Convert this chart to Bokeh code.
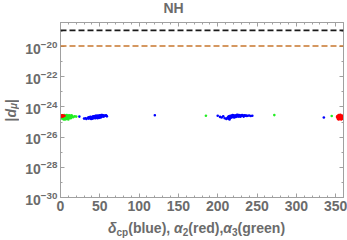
from bokeh.plotting import figure
from bokeh.models import Span, LogAxis, LinearAxis, FixedTicker, CustomJSTickFormatter, Div
from bokeh.layouts import column, row
from bokeh.embed import file_html
from bokeh.resources import INLINE

# ---- data ----
blue_x = [30, 32, 33, 35, 36, 37, 38, 38, 39, 40, 40, 41, 42, 42, 43, 44, 44, 45, 45, 46, 46, 47, 47, 48, 48,
          49, 49, 50, 50, 51, 51, 52, 52, 53, 53, 54, 55, 55, 56, 57, 58, 59, 36, 39, 41, 43, 45, 47, 49, 51, 53, 24,
          120, 200, 203, 205, 207, 209, 335,
          211, 212, 213, 214, 214, 215, 216, 216, 217, 218, 218, 219, 220, 220, 221, 222, 222, 223, 224, 224, 225,
          226, 226, 227, 228, 228, 229, 230, 230, 231, 232, 233, 234, 235, 236, 237, 238, 240, 242, 244,
          215, 217, 219, 221, 223, 225, 227, 229, 231, 233]
blue_y = [1.7e-25, 1.8e-25, 1.6e-25, 1.9e-25, 1.7e-25, 2.0e-25, 1.8e-25, 2.2e-25, 1.6e-25, 2.1e-25, 1.8e-25,
          2.3e-25, 1.9e-25, 2.4e-25, 2.1e-25, 1.8e-25, 2.5e-25, 2.2e-25, 1.9e-25, 2.6e-25, 2.1e-25, 2.3e-25,
          1.8e-25, 2.7e-25, 2.0e-25, 2.4e-25, 2.2e-25, 2.8e-25, 2.1e-25, 2.5e-25, 2.3e-25, 2.9e-25, 2.2e-25,
          2.6e-25, 2.4e-25, 2.8e-25, 2.5e-25, 2.3e-25, 2.7e-25, 2.6e-25, 2.8e-25, 2.4e-25, 2.1e-25, 2.0e-25,
          1.7e-25, 2.3e-25, 2.6e-25, 2.5e-25, 1.9e-25, 2.0e-25, 2.9e-25, 2.3e-25,
          2.8e-25, 2.6e-25, 2.2e-25, 2.0e-25, 2.4e-25, 1.8e-25, 2.0e-25,
          1.6e-25, 1.8e-25, 2.1e-25, 2.4e-25, 1.7e-25, 2.2e-25, 2.6e-25, 1.9e-25, 2.3e-25, 2.7e-25, 2.1e-25,
          2.4e-25, 2.8e-25, 2.2e-25, 2.5e-25, 2.7e-25, 2.3e-25, 2.6e-25, 2.9e-25, 2.4e-25, 2.6e-25, 2.8e-25,
          2.3e-25, 2.5e-25, 2.7e-25, 2.4e-25, 2.6e-25, 2.8e-25, 2.5e-25, 2.6e-25, 2.7e-25, 2.5e-25, 2.8e-25,
          2.6e-25, 2.7e-25, 2.5e-25, 2.6e-25, 2.7e-25, 2.5e-25, 2.6e-25,
          1.5e-25, 2.0e-25, 2.9e-25, 2.0e-25, 2.2e-25, 3.0e-25, 2.9e-25, 2.3e-25, 2.9e-25, 2.3e-25]

red_x = [1, 2, 3, 4, 2, 3, 5, 1,
         352, 353, 353, 354, 354, 355, 355, 356, 356, 357, 357, 358, 358, 359, 359, 352, 354, 356, 358, 355]
red_y = [2.6e-25, 2.4e-25, 2.7e-25, 2.5e-25, 2.8e-25, 2.3e-25, 2.6e-25, 2.3e-25,
         2.0e-25, 2.6e-25, 1.6e-25, 2.3e-25, 2.9e-25, 1.8e-25, 2.5e-25, 2.1e-25, 2.8e-25, 1.5e-25, 2.4e-25,
         1.9e-25, 2.7e-25, 2.2e-25, 1.7e-25, 2.4e-25, 1.5e-25, 3.0e-25, 1.6e-25, 2.2e-25]

green_x = [1, 2, 3, 4, 5, 5, 6, 6, 7, 7, 8, 8, 9, 9, 10, 10, 11, 11, 12, 12, 13, 13, 14, 15, 16, 18,
           3, 4, 6, 8, 10, 2, 11, 14,
           20, 185, 272, 345]
green_y = [2.0e-25, 1.7e-25, 2.2e-25, 1.9e-25, 2.9e-25, 1.6e-25, 2.4e-25, 2.0e-25, 2.7e-25, 1.8e-25,
           2.3e-25, 2.9e-25, 2.1e-25, 1.7e-25, 2.6e-25, 2.2e-25, 1.9e-25, 2.8e-25, 2.4e-25, 2.0e-25,
           2.6e-25, 1.8e-25, 2.3e-25, 2.5e-25, 2.1e-25, 2.4e-25,
           2.8e-25, 1.5e-25, 1.5e-25, 1.6e-25, 1.5e-25, 2.5e-25, 2.3e-25, 2.8e-25,
           2.3e-25, 2.6e-25, 2.9e-25, 2.5e-25]

bound_now = 1.2e-19
bound_future = 1.1e-20

x_ticks = [0, 50, 100, 150, 200, 250, 300, 350]
x_minor = list(range(0, 361, 10))
y_ticks = [1e-30, 1e-28, 1e-26, 1e-24, 1e-22, 1e-20]
y_minor = [1e-29, 1e-27, 1e-25, 1e-23, 1e-21, 1e-19]

title_text = "NH"
GRAY = "#6b6b6b"
FRAME = "#a0a0a0"
FONT = "Liberation Sans"

p = figure(width=325, height=204, x_range=(0, 360), y_range=(1e-30, 10 ** -18.4),
           y_axis_type="log", output_backend="svg", toolbar_location=None,
           min_border_left=37, min_border_right=4, min_border_top=8, min_border_bottom=21)
p.xgrid.visible = False
p.ygrid.visible = False
p.outline_line_color = FRAME
p.background_fill_color = "white"


def style_axis(ax, ticker, show_labels=True):
    ax.ticker = ticker
    ax.axis_line_color = FRAME
    ax.major_tick_line_color = FRAME
    ax.minor_tick_line_color = FRAME
    ax.major_tick_in = 4
    ax.major_tick_out = 0
    ax.minor_tick_in = 2
    ax.minor_tick_out = 0
    ax.major_label_text_font = FONT
    ax.major_label_text_font_style = "bold"
    ax.major_label_text_color = GRAY
    if show_labels:
        ax.major_label_text_font_size = "14px"
        ax.major_label_standoff = 3
    else:
        ax.major_label_text_font_size = "1px"
        ax.formatter = CustomJSTickFormatter(code="return ''")
        ax.major_label_standoff = 0


style_axis(p.xaxis[0], FixedTicker(ticks=x_ticks, minor_ticks=x_minor))
style_axis(p.yaxis[0], FixedTicker(ticks=y_ticks, minor_ticks=y_minor))
top = LinearAxis()
style_axis(top, FixedTicker(ticks=x_ticks, minor_ticks=x_minor), show_labels=False)
p.add_layout(top, "above")
right = LogAxis()
style_axis(right, FixedTicker(ticks=y_ticks, minor_ticks=y_minor), show_labels=False)
p.add_layout(right, "right")

p.add_layout(Span(location=bound_now, dimension="width", line_color="#1a1a1a",
                  line_dash="6 3", line_width=1.6))
p.add_layout(Span(location=bound_future, dimension="width", line_color="#c8772e",
                  line_dash="6 3", line_width=1.6))

p.scatter(blue_x, blue_y, size=2.6, color="#0000ff", line_color=None)
p.scatter(green_x, green_y, size=2.6, color="#22ee22", line_color=None)
p.scatter(red_x, red_y, size=2.6, color="#ff0000", line_color=None)

# ---- labels as HTML around the figure ----
BASE = f"font-family:'{FONT}';font-weight:bold;color:{GRAY};font-size:14px;white-space:nowrap;margin:0;"
SUB = "font-size:10px;vertical-align:-3px;line-height:0;"

title_div = Div(
    text=f'<div style="{BASE}line-height:14px;padding-top:1px;padding-left:53px;width:294px;'
         f'text-align:center;">{title_text}</div>',
    width=347, height=14, margin=0)

ylab_div = Div(
    text=f'<div style="height:192px;width:22px;display:flex;align-items:center;justify-content:center;">'
         f'<span style="{BASE}writing-mode:vertical-rl;transform:rotate(180deg);line-height:14px;">'
         f'|<i>d</i><span style="{SUB}"><i>μ</i></span>|</span></div>',
    width=22, height=204, margin=0)

xlab_div = Div(
    text=f'<div style="{BASE}line-height:20px;padding-left:108px;">'
         f'<i>δ</i><span style="{SUB}">cp</span>(blue), '
         f'<i>α</i><span style="{SUB}">2</span>(red),'
         f'<i>α</i><span style="{SUB}">3</span>(green)</div>',
    width=347, height=22, margin=0)

layout = column(title_div, row(ylab_div, p, spacing=0), xlab_div, spacing=0)

open("out.html", "w").write(file_html(layout, INLINE))
